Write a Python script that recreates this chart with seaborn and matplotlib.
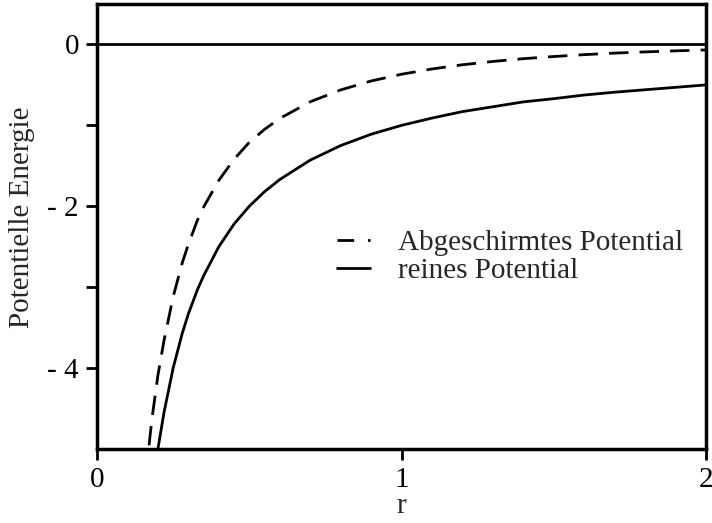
import matplotlib
matplotlib.use("Agg")
import matplotlib.pyplot as plt
import seaborn as sns
import pandas as pd

# Values
r_screened = [0.16, 0.18, 0.20, 0.22, 0.25, 0.28, 0.30, 0.33, 0.35, 0.40, 0.45, 0.50, 0.55, 0.60, 0.70, 0.80,
              0.90, 1.00, 1.10, 1.20, 1.30, 1.40, 1.50, 1.60, 1.70, 1.80, 1.90, 2.00]
v_screened = [-5.33, -4.64, -4.09, -3.66, -3.12, -2.70, -2.47, -2.17, -2.01, -1.68, -1.42, -1.21, -1.05, -0.915,
              -0.709, -0.562, -0.452, -0.368, -0.303, -0.251, -0.210, -0.176, -0.149, -0.126, -0.107, -0.092,
              -0.079, -0.068]
r_pure = [0.19, 0.20, 0.22, 0.25, 0.28, 0.30, 0.33, 0.35, 0.40, 0.45, 0.50, 0.55, 0.60, 0.70, 0.80,
          0.90, 1.00, 1.10, 1.20, 1.30, 1.40, 1.50, 1.60, 1.70, 1.80, 1.90, 2.00]
v_pure = [-5.26, -5.00, -4.55, -4.00, -3.57, -3.33, -3.03, -2.86, -2.50, -2.22, -2.00, -1.82, -1.67, -1.43,
          -1.25, -1.11, -1.00, -0.91, -0.83, -0.77, -0.71, -0.67, -0.625, -0.59, -0.56, -0.53, -0.50]
label_screened = "Abgeschirmtes Potential"
label_pure = "reines Potential"
x_ticks = [0, 1, 2]
x_ticklabels = ["0", "1", "2"]
y_ticks = [0, -1, -2, -3, -4]
y_ticklabels = ["0", "", "- 2", "", "- 4"]

sns.set_style("white")
plt.rcParams["font.family"] = ["Liberation Serif", "DejaVu Serif"]
plt.rcParams["font.size"] = 21

fig = plt.figure(figsize=(7.12, 5.23), dpi=100)
ax = fig.add_axes([97/712, 1 - 449/523, 609/712, 445/523])

df_s = pd.DataFrame({"r": r_screened, "E": v_screened})
df_p = pd.DataFrame({"r": r_pure, "E": v_pure})
sns.lineplot(data=df_s, x="r", y="E", ax=ax, color="black", lw=2, label=label_screened)
ax.lines[-1].set_linestyle((0, (7, 4)))
sns.lineplot(data=df_p, x="r", y="E", ax=ax, color="black", lw=2, label=label_pure)

ax.axhline(0, color="black", lw=2)
ax.set_xlim(0, 2)
ax.set_ylim(-5, 0.5)
ax.set_xticks(x_ticks)
ax.set_xticklabels(x_ticklabels)
ax.set_yticks(y_ticks)
ax.set_yticklabels(y_ticklabels)
ax.set_xlabel("r", fontsize=21)
ax.set_ylabel("Potentielle Energie", fontsize=21)
ax.xaxis.set_label_coords(0.5, -0.099)
ax.xaxis.label.set_va("top")
ax.yaxis.set_label_coords(-0.102, 0.521)
for s in ax.spines.values():
    s.set_visible(True)
    s.set_linewidth(2.5)
    s.set_color("black")
ax.tick_params(bottom=True, left=True, direction="out", length=8, width=2,
               colors="black", pad=5, labelsize=21)

leg = ax.legend(loc="center left", bbox_to_anchor=(0.394, 0.432), frameon=False,
                handlelength=1.15, handletextpad=0.95, borderpad=0, borderaxespad=0,
                labelspacing=0.05, fontsize=21)
for h in leg.legend_handles:
    h.set_linewidth(2)
leg.legend_handles[0].set_linestyle((0, (6, 5)))

fig.savefig("out.png", dpi=100)
